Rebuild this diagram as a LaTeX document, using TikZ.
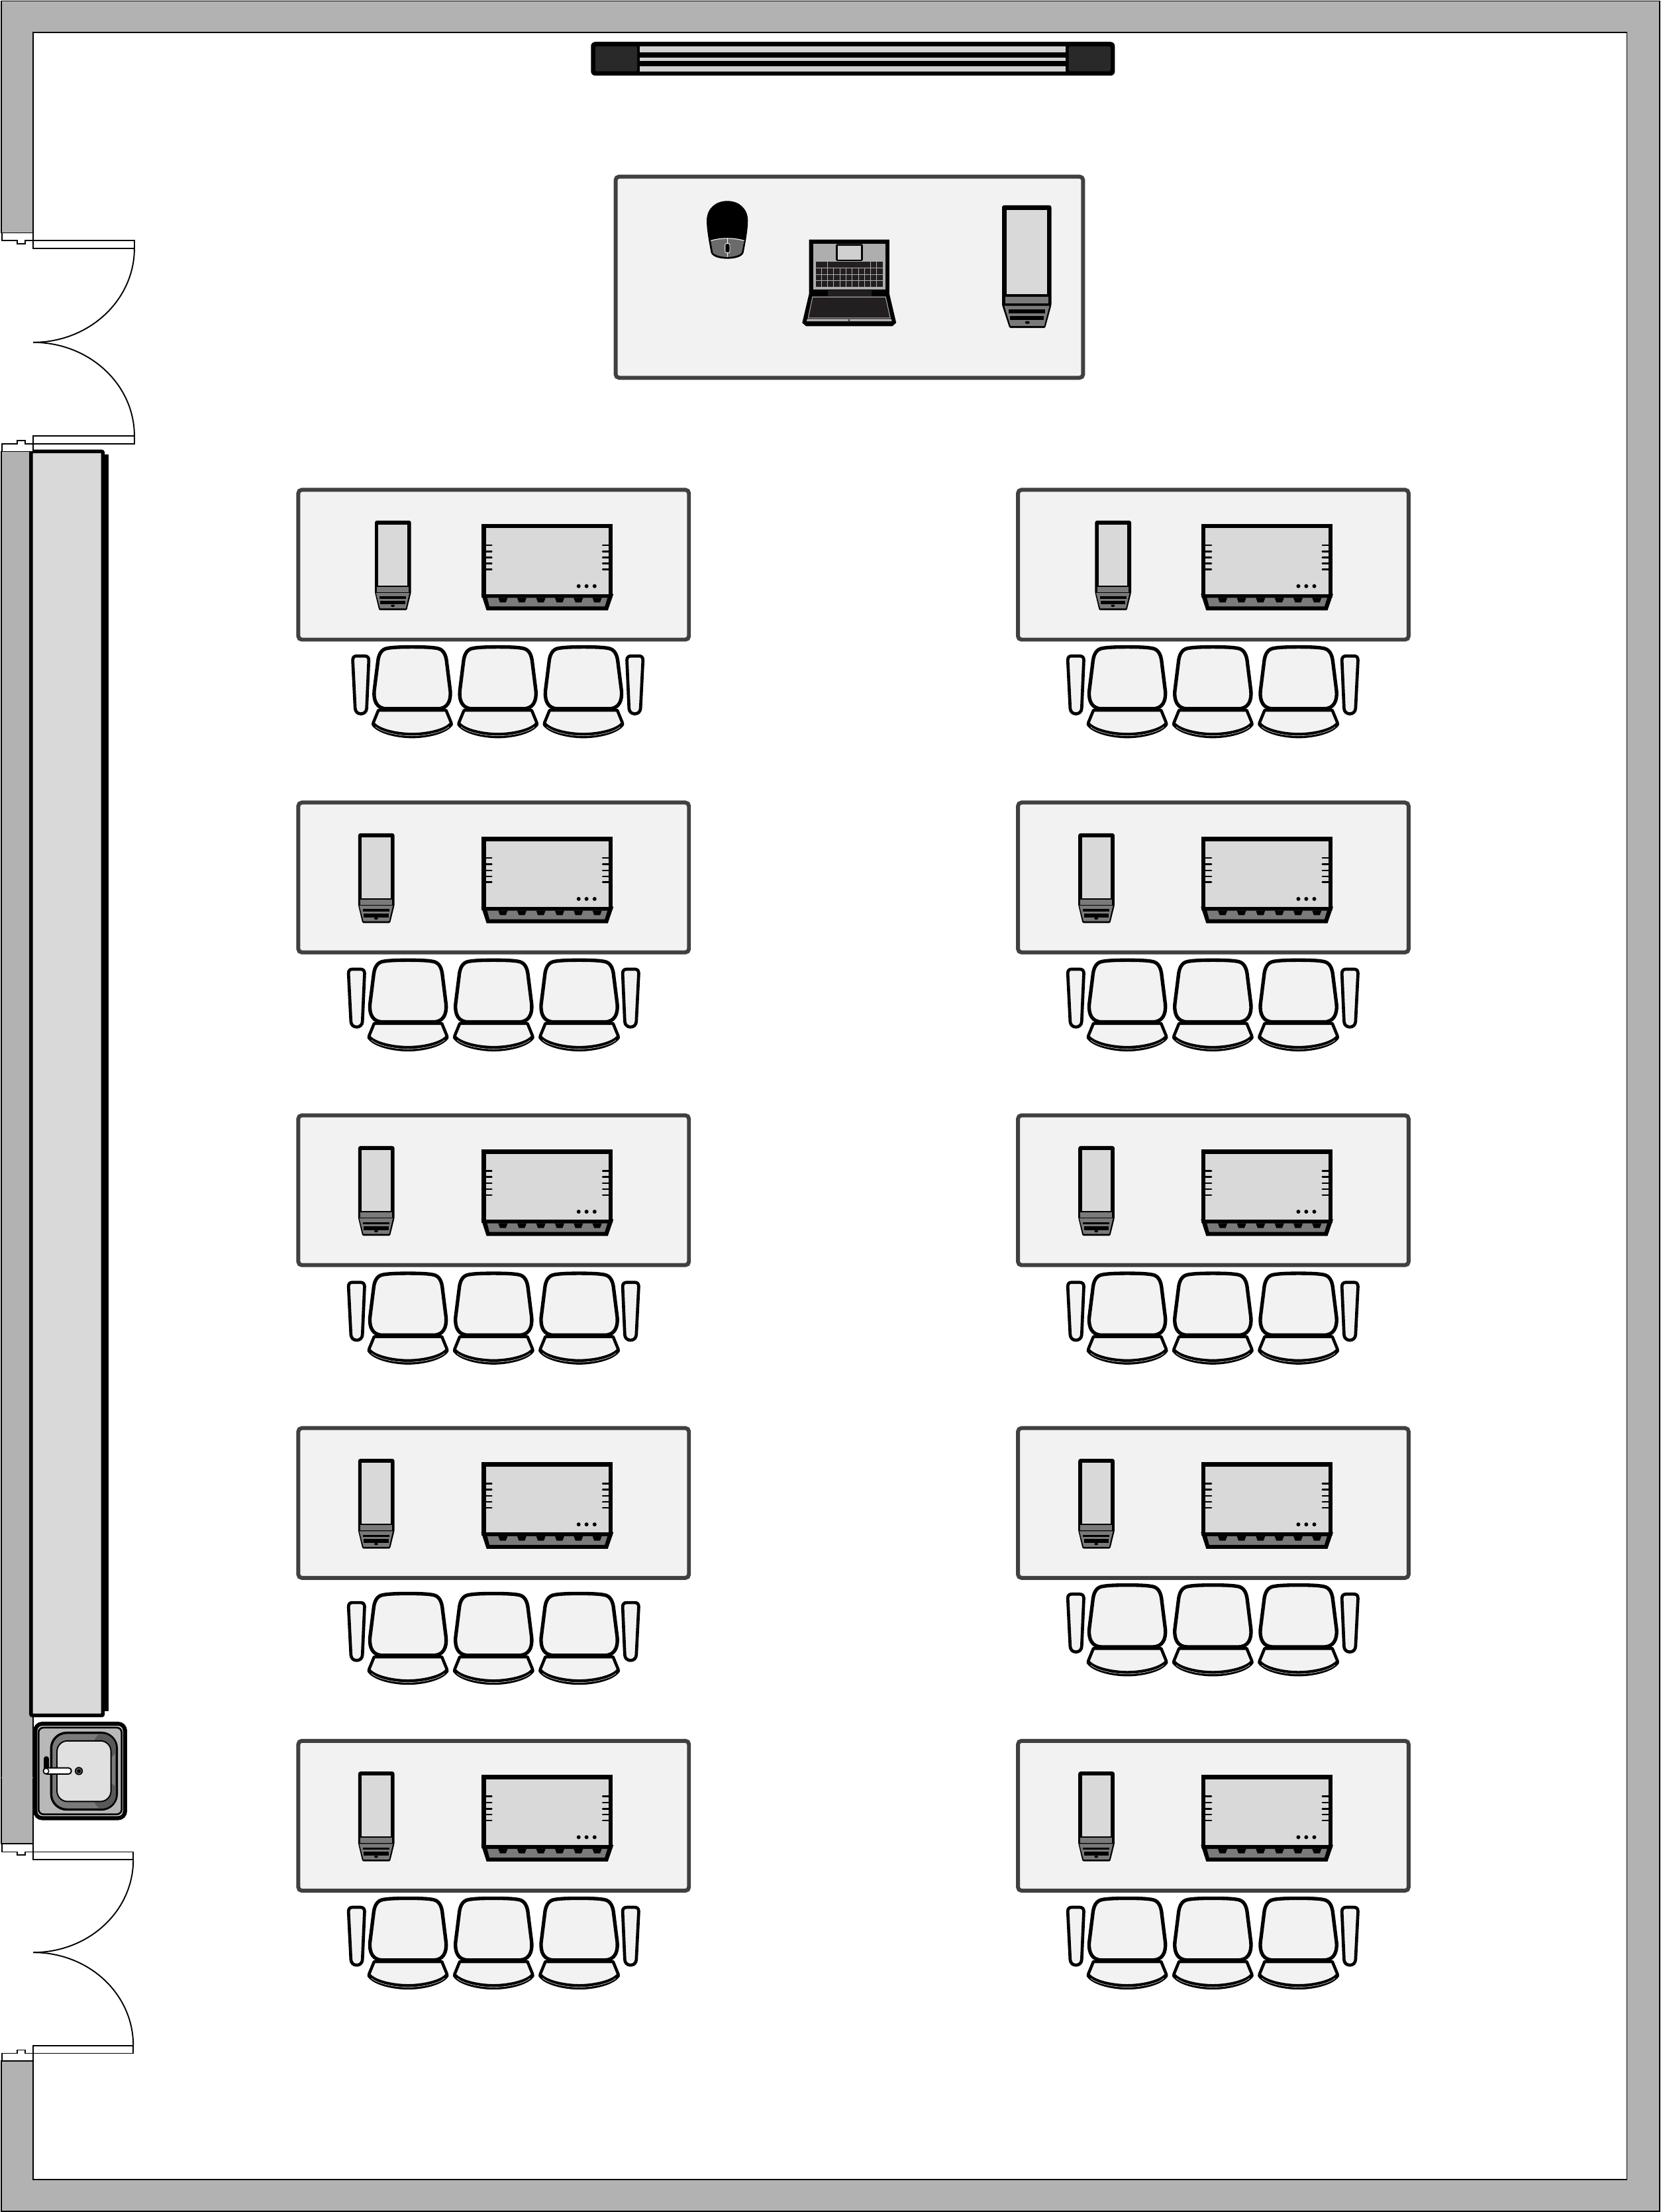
\documentclass[tikz,border=0pt]{standalone}
\definecolor{wallgray}{HTML}{B2B2B2}
\definecolor{deskfill}{HTML}{F2F2F2}
\definecolor{deskline}{HTML}{404040}
\definecolor{panel}{HTML}{D9D9D9}
\definecolor{midgray}{HTML}{7A7A7A}
\definecolor{keydark}{HTML}{231F20}
\definecolor{lapgray}{HTML}{AEAEAE}
\definecolor{stripe}{HTML}{D0D0D0}
\tikzset{
  wall/.style={fill=wallgray,draw=black,line width=.7pt},
  jamb/.style={fill=white,draw=black,line width=.8pt},
  swing/.style={draw=black,line width=.9pt},
  desk/.style={fill=deskfill,draw=deskline,line width=2.8pt,rounded corners=2.5pt},
  seat/.style={fill=deskfill,draw=black,line width=2.5pt,line join=round},
  towerpic/.pic={
    \fill[black,rounded corners=1.5pt] (0,0) rectangle (35,72);
    \fill[panel] (3.4,3.4) rectangle (32.1,63.2);
    \fill[midgray] (2.2,64.8) rectangle (33,69.5);
    \fill[black,rounded corners=.7pt] (0,70.7) -- (35,70.7) -- (30.6,87) -- (5.3,87) -- cycle;
    \fill[midgray] (1.6,71.3) -- (33.6,71.3) -- (29.9,85.6) -- (6,85.6) -- cycle;
    \fill[black] (4.9,73.9) rectangle (30.4,76.4);
    \fill[black] (5.6,78.6) rectangle (29.8,81.4);
    \fill[black] (18,83.1) ellipse [x radius=1.7,y radius=1];
  },
  smalltower/.pic={
    \fill[black,rounded corners=1.5pt] (0,0) rectangle (25.7,52.4);
    \fill[panel] (2.5,2.8) rectangle (23,46);
    \fill[midgray] (1.5,46.9) rectangle (24,50.6);
    \fill[black,rounded corners=.7pt] (0,51) -- (25.7,51) -- (22.6,63.6) -- (3,63.6) -- cycle;
    \fill[midgray] (.8,51.3) -- (24.5,51.3) -- (21.9,62.3) -- (3.7,62.3) -- cycle;
    \fill[black] (3.4,53.8) rectangle (22.2,55.5);
    \fill[black] (3.9,56.7) rectangle (21.6,59.5);
    \fill[black] (12.7,60.4) ellipse [x radius=1.4,y radius=.8];
  },
  switchpic/.pic={
    \fill[black] (0,0) rectangle (92.9,52);
    \fill[black] (-.3,49.6) -- (93.5,49.6) -- (89.5,61.3) -- (3.5,61.3) -- cycle;
    \fill[panel] (3,3.1) rectangle (90.1,49.6);
    \fill[midgray] (4,52.4) -- (89.2,52.4) -- (87.3,58.5) -- (5.6,58.5) -- cycle;
    \foreach \px in {11.8,25.2,38.7,52,65.3,78.6}
      \fill[black] (\px,52.4) -- (\px+6.6,52.4) -- (\px+5.4,55.6) -- (\px+1.2,55.6) -- cycle;
    \foreach \py in {15.1,19.5,23.9,28.1,32.3} {
      \draw[black,line width=1.25pt,line cap=round] (3,\py) -- (7.1,\py);
      \draw[black,line width=1.25pt,line cap=round] (85.9,\py) -- (90.1,\py);
    }
    \foreach \px in {68.8,74.4,80.1}
      \fill[black] (\px,44.1) circle (1.4);
  },
  onechair/.pic={
    \path[seat,line width=1.8pt] (-24,46.5) -- (-28,56.5) .. controls (-24,62.5) and (-10,65.4) .. (0,65.4)
       .. controls (10,65.4) and (24,62.5) .. (28,56.5) -- (24,46.5) -- cycle;
    \path[seat,line width=2.1pt] (-24,46.5) -- (-27.7,55.5) .. controls (-24,60.8) and (-10,63.5) .. (0,63.5)
       .. controls (10,63.5) and (24,60.8) .. (27.7,55.5) -- (24,46.5) -- cycle;
    \draw[white,line width=.25pt] (-26,58.2) .. controls (-22,62) and (-10,64.6) .. (0,64.6)
       .. controls (10,64.6) and (22,62) .. (26,58.2);
    \path[seat] (0,1.6) .. controls (-8,1.6) and (-14,1.8) .. (-18,2.6)
       .. controls (-22,3.4) and (-24,7) .. (-24.5,13) -- (-27,33)
       .. controls (-27.5,40) and (-25,45.4) .. (-18,45.4) -- (18,45.4)
       .. controls (25,45.4) and (27.5,40) .. (27,33) -- (24.5,13)
       .. controls (24,7) and (22,3.4) .. (18,2.6)
       .. controls (14,1.8) and (8,1.6) .. (0,1.6) -- cycle;
  },
  chairrow/.pic={
    \foreach \cx in {-60.7,0,60.7}
      \pic at (\cx,0) {onechair};
    \foreach \sg in {-1,1}
    \path[seat,line width=2.2pt,xscale=\sg] (-102.9,11) .. controls (-102.9,8.5) and (-101.5,8) .. (-100,8)
       -- (-94.5,8) .. controls (-92.5,8) and (-91.5,9) .. (-91.5,11) -- (-93,45)
       .. controls (-93,47.5) and (-95,49) .. (-97,49)
       .. controls (-99.5,49) and (-101,47.5) .. (-101.2,45) -- cycle;
  }
}
\begin{document}
\begin{tikzpicture}[x=1pt,y=-1pt]
\useasboundingbox (0,0) rectangle (1177.3,1568);
\fill[white] (0,0) rectangle (1177.3,1568);
% walls
\draw[wall] (1,165) -- (1,.6) -- (1176.7,.6) -- (1176.7,1567.4) -- (1,1567.4) -- (1,1461)
  -- (23.5,1461) -- (23.5,1545) -- (1153.6,1545) -- (1153.6,23) -- (23.5,23) -- (23.5,165) -- cycle;
\draw[wall] (1,320) rectangle (23.5,1307);
\draw[black!30,line width=.3pt] (1,1260) -- (23.5,1260);
% storage bench
\fill[black] (73,322) rectangle (77,1213);
\draw[fill=panel,draw=black,line width=2.6pt,rounded corners=1pt] (22,320) rectangle (73,1216);
% sink
\draw[fill=panel!70!white,draw=black,line width=2.9pt,rounded corners=5pt] (25,1221.9) rectangle (88.7,1288.8);
\draw[fill=wallgray!92!white,draw=black,line width=1.3pt,rounded corners=3.5pt] (27.3,1224.6) rectangle (86.3,1286.1);
\draw[fill=midgray,draw=black,line width=1.6pt,rounded corners=11pt] (36.3,1228.3) rectangle (82.8,1282.7);
\begin{scope}
  \clip[rounded corners=10pt] (36.8,1229) rectangle (82.2,1282);
  \fill[black!65] (67,1233) -- (71,1228) -- (84,1228) -- (84,1240) -- (79,1246) -- cycle;
  \fill[black!65] (67,1278) -- (71,1283) -- (84,1283) -- (84,1268) -- (79,1264) -- cycle;
\end{scope}
\draw[fill=black!12,draw=black,line width=.9pt,rounded corners=7.5pt] (40.4,1234) rectangle (78.7,1277);
\fill[black,rounded corners=1.8pt] (31,1244.9) rectangle (34.7,1257);
\draw[fill=white,draw=black,line width=.9pt,rounded corners=2pt] (30.8,1253.2) rectangle (50.6,1257.5);
\fill[black] (32.7,1255.4) circle (2.3);
\fill[white] (32.7,1255.4) circle (1.5);
\fill[black] (55.9,1255.4) circle (2.9);
\fill[black!65] (55.9,1255.4) circle (2.2);
\fill[black] (55.9,1255.4) circle (1.3);
% upper doors
\draw[jamb] (1.3,320) -- (1.3,314.6) -- (12.2,314.6) -- (12.2,312.3) -- (17.8,312.3) -- (17.8,314.6) -- (23.5,314.6) -- (23.5,320) -- cycle;
\draw[jamb] (1.3,165) -- (1.3,170.4) -- (12.2,170.4) -- (12.2,172.7) -- (17.8,172.7) -- (17.8,170.4) -- (23.5,170.4) -- (23.5,165) -- cycle;
\draw[jamb] (23.5,170.4) rectangle (95.3,176);
\draw[jamb] (23.5,309) rectangle (95.3,314.6);
\draw[swing] (95.3,176) .. controls (95.3,212.8) and (63.2,242.7) .. (23.5,242.7);
\draw[swing] (23.5,242.7) .. controls (63.2,242.7) and (95.3,272.4) .. (95.3,309);
% lower doors
\draw[jamb] (1.3,1307) -- (1.3,1312.7) -- (12.2,1312.7) -- (12.2,1315) -- (17.8,1315) -- (17.8,1312.7) -- (23.5,1312.7) -- (23.5,1307) -- cycle;
\draw[jamb] (1.3,1461) -- (1.3,1455.5) -- (12.2,1455.5) -- (12.2,1453.2) -- (17.8,1453.2) -- (17.8,1455.5) -- (23.5,1455.5) -- (23.5,1461) -- cycle;
\draw[jamb] (23.5,1312.7) rectangle (94.5,1318.3);
\draw[jamb] (23.5,1450) rectangle (94.5,1455.5);
\draw[swing] (94.5,1318.3) .. controls (94.5,1354.8) and (62.8,1384) .. (23.5,1384);
\draw[swing] (23.5,1384) .. controls (62.8,1384) and (94.5,1413.2) .. (94.5,1450);
% projector screen
\fill[black,rounded corners=3pt] (419,29.7) rectangle (790.5,53.6);
\fill[stripe] (453.8,32.9) rectangle (755.8,37.2);
\fill[stripe] (453.8,40.7) rectangle (755.8,43.3);
\fill[stripe] (453.8,46.9) rectangle (755.8,50.9);
\fill[black!84,rounded corners=1pt] (422.1,32.9) rectangle (451.8,50.5);
\fill[black!84,rounded corners=1pt] (757.8,32.9) rectangle (787.4,50.5);
% main desk
\draw[desk] (436.5,125.2) rectangle (768,267.8);
% mouse
\begin{scope}[shift={(432,112.7)},x=.2214pt,y=-.1565pt]
  \fill[black] (378,190) .. controls (340,190) and (312,225) .. (312,280)
     .. controls (312,320) and (320,380) .. (326,425)
     .. controls (332,445) and (355,452) .. (378,452)
     .. controls (401,452) and (424,445) .. (430,425)
     .. controls (436,380) and (444,320) .. (444,280)
     .. controls (444,225) and (416,190) .. (378,190) -- cycle;
  \fill[black!58] (325,370) .. controls (360,356) and (396,356) .. (432,370)
     -- (424,425) .. controls (415,438) and (395,444) .. (378,444)
     .. controls (361,444) and (341,438) .. (332,425) -- cycle;
  \draw[white,line width=.5pt] (325,370) .. controls (360,356) and (396,356) .. (432,370);
  \draw[white,line width=.5pt] (378,358) -- (378,444);
  \draw[fill=black,draw=white,line width=.4pt,rounded corners=1pt] (371,383) rectangle (386,425);
\end{scope}
% laptop
\begin{scope}[shift={(432,112.7)},x=.2214pt,y=-.1565pt]
  \fill[black] (640,365) -- (897,365) -- (897,610) -- (919,742) -- (907,757) -- (630,757) -- (618,742) -- (640,610) -- cycle;
  \fill[lapgray] (653,384) rectangle (885,592);
  \fill[black,rounded corners=1pt] (726,385) rectangle (812,462);
  \fill[stripe] (732,392) rectangle (806,455);
  \foreach \kx/\kw in {661/19,682/16,701/134,838/17,858/18}
    \fill[keydark] (\kx,466) rectangle (\kx+\kw,492);
  \foreach \ky in {495,524,553}
    \foreach \ki in {0,...,10}
      \fill[keydark] (661+\ki*19.7,\ky) rectangle (661+\ki*19.7+17.5,\ky+26);
  \fill[keydark] (699,594) rectangle (839,622);
  \draw[fill=keydark,draw=lapgray,line width=.5pt] (651,625) -- (885,625) -- (900,720) -- (637,720) -- cycle;
  \fill[lapgray] (634,724) -- (903,724) -- (905,735) -- (632,735) -- cycle;
  \fill[black] (768,730) circle (.6pt);
\end{scope}
% main tower
\pic at (710.5,145.5) {towerpic};
% student desks
\foreach \dx/\tx in {0/265.8,510.3/776.4} {
  \foreach \row/\txx in {0/0,1/1,2/1,3/1,4/1} {
    \pgfmathsetmacro{\ry}{221.7*\row}
    \draw[desk] (211.5+\dx,347.2+\ry) rectangle (488.5+\dx,453.4+\ry);
    \pgfmathsetmacro{\twx}{\tx-11.8*\txx}
    \pic at (\twx,369+\ry) {smalltower};
    \pic at (341.5+\dx,371.4+\ry) {switchpic};
  }
}
% chairs
\foreach \gx/\gy in {353/457,350/679,350/901,350/1128,350/1344,860/457,860/679,860/901,860/1122,860/1344}
  \pic at (\gx,\gy) {chairrow};
\end{tikzpicture}
\end{document}
